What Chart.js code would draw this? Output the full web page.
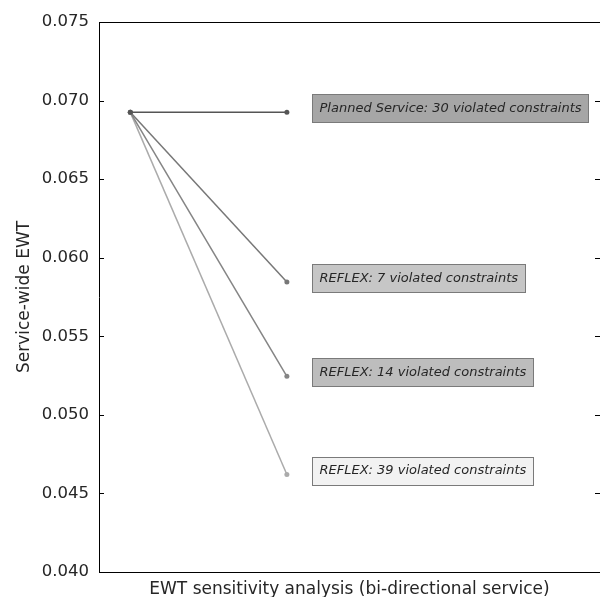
<!DOCTYPE html>
<html>
<head>
<meta charset="utf-8">
<script src="https://cdn.jsdelivr.net/npm/chart.js"></script>
<style>
  html, body { margin: 0; padding: 0; background: #fff; overflow: hidden; }
  #wrap { width: 600px; height: 597px; overflow: hidden; }
</style>
</head>
<body>
<div id="wrap"><canvas id="ewt" width="604" height="600"></canvas></div>
<script>
// sensitivity runs: one line from the common start to each scenario's EWT
const scenarios = [
  'Planned Service: 30 violated constraints',
  'REFLEX: 7 violated constraints',
  'REFLEX: 14 violated constraints',
  'REFLEX: 39 violated constraints'
];
const startEWT = 0.06925;
const endEWT = [0.06925, 0.05845, 0.05245, 0.04620];
const xSteps = [0, 1];
const yMin = 0.040, yMax = 0.075, yStep = 0.005;

const lineColors = ['#555555', '#777777', '#858585', '#ababab'];
const boxColors = ['#a6a6a6', '#c6c6c6', '#bdbdbd', '#f2f2f2'];
const labelX = 1.16;

const FONT = '"DejaVu Sans", sans-serif';

const datasets = scenarios.map((name, i) => ({
  label: name,
  data: [{x: xSteps[0], y: startEWT}, {x: xSteps[1], y: endEWT[i]}],
  borderColor: lineColors[i],
  backgroundColor: lineColors[i],
  borderWidth: 1.5,
  pointRadius: 2.5,
  pointBorderWidth: 0,
  fill: false,
  tension: 0
}));

// frame (right spine sits just past the picture edge), inward ticks, text boxes
const decor = {
  id: 'decor',
  afterDraw(chart) {
    const ctx = chart.ctx;
    const a = chart.chartArea;
    const xs = chart.scales.x, ys = chart.scales.y;
    const L = Math.round(a.left) + 0.5, T = Math.round(a.top) + 0.5, B = Math.round(a.bottom) + 0.5;
    ctx.save();
    ctx.strokeStyle = '#000';
    ctx.lineWidth = 1;
    ctx.beginPath();
    ctx.moveTo(a.right + 2, T); ctx.lineTo(L, T); ctx.lineTo(L, B); ctx.lineTo(a.right + 2, B);
    ys.ticks.forEach(t => {
      const py = Math.round(ys.getPixelForValue(t.value)) + 0.5;
      ctx.moveTo(a.left, py); ctx.lineTo(a.left + 5, py);
      ctx.moveTo(a.right, py); ctx.lineTo(a.right - 5, py);
    });
    ctx.stroke();

    ctx.font = 'italic 13px ' + FONT;
    ctx.textBaseline = 'middle';
    scenarios.forEach((name, i) => {
      const bx = Math.round(xs.getPixelForValue(labelX)) + 0.5;
      const cy = ys.getPixelForValue(endEWT[i]) - 4;
      const w = Math.round(ctx.measureText(name).width) + 14;
      const h = 28;
      const by = Math.round(cy - h / 2) + 0.5;
      ctx.fillStyle = boxColors[i];
      ctx.fillRect(bx, by, w, h);
      ctx.strokeStyle = '#7a7a7a';
      ctx.strokeRect(bx, by, w, h);
      ctx.fillStyle = '#262626';
      ctx.fillText(name, bx + 7, cy + 0.5);
    });
    ctx.restore();
  }
};

new Chart(document.getElementById('ewt'), {
  type: 'line',
  data: { datasets },
  plugins: [decor],
  options: {
    responsive: false,
    animation: false,
    devicePixelRatio: 1,
    layout: { padding: { top: 22, right: 0, left: 0, bottom: 0 } },
    plugins: { legend: { display: false }, tooltip: { enabled: false } },
    scales: {
      x: {
        type: 'linear',
        min: -0.2,
        max: 3,
        grid: { display: false },
        border: { display: false },
        ticks: { display: false },
        title: {
          display: true,
          text: 'EWT sensitivity analysis (bi-directional service)',
          color: '#262626',
          font: { family: FONT, size: 17 },
          padding: { top: 0, bottom: 0 }
        },
        afterFit(s) { s.height = 28; }
      },
      y: {
        type: 'linear',
        min: yMin,
        max: yMax,
        grid: { display: false },
        border: { display: false },
        ticks: {
          stepSize: yStep,
          padding: 2,
          color: '#262626',
          font: { family: FONT, size: 16.5 },
          callback: v => v.toFixed(3)
        },
        title: {
          display: true,
          text: 'Service-wide EWT',
          color: '#262626',
          font: { family: FONT, size: 17 },
          padding: { top: 14, bottom: 0 }
        },
        afterFit(s) { s.width = 99; }
      }
    }
  }
});
</script>
</body>
</html>
